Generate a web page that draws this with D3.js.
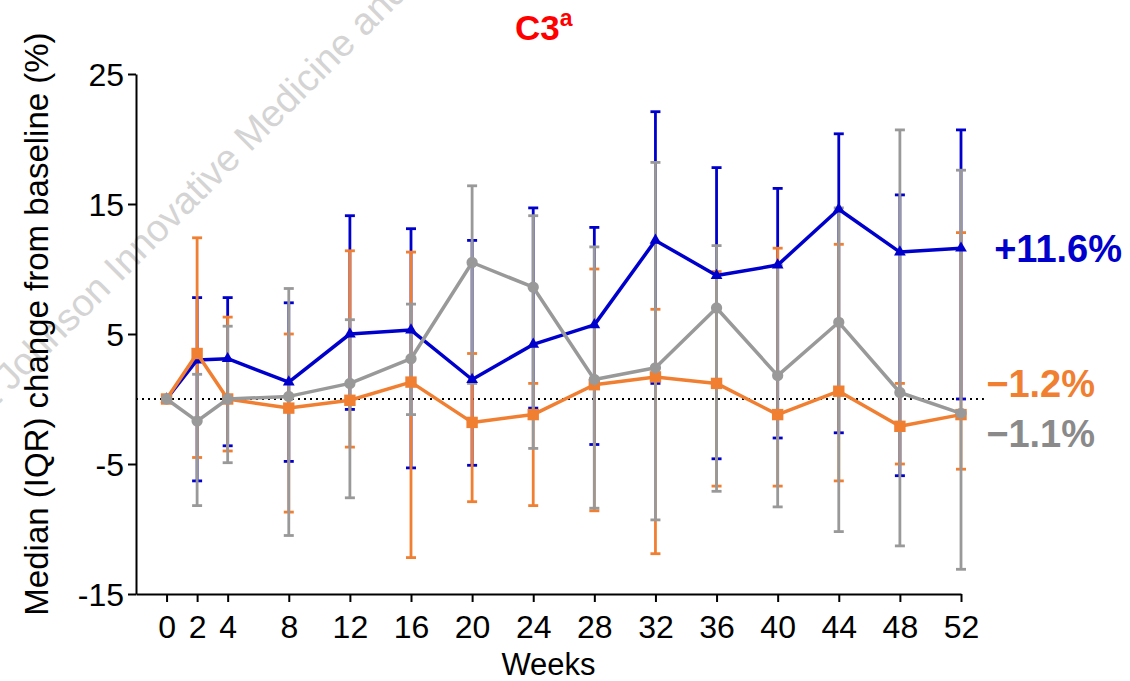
<!DOCTYPE html>
<html>
<head>
<meta charset="utf-8">
<script src="https://cdn.jsdelivr.net/npm/d3@7"></script>
<style>
  html, body { margin: 0; padding: 0; background: #fff; }
  svg { display: block; }
  text { font-family: "Liberation Sans", Arial, sans-serif; }
</style>
</head>
<body>
<svg id="chart" width="1130" height="681"></svg>
<script>
// ---- data ----
const weeks = [0, 2, 4, 8, 12, 16, 20, 24, 28, 32, 36, 40, 44, 48, 52];
const xTickLabels = ["0","2","4","8","12","16","20","24","28","32","36","40","44","48","52"];
const yTickValues = [25, 15, 5, -5, -15];

const blueMedian = [0, 3.0, 3.1, 1.3, 5.0, 5.3, 1.5, 4.2, 5.7, 12.2, 9.5, 10.3, 14.6, 11.3, 11.6];
const blueQ1     = [0, -6.3, -3.6, -4.8, -0.8, -5.3, -5.1, -0.7, -3.5, 1.2, -4.6, -3.0, -2.6, -5.9, 0.0];
const blueQ3     = [0, 7.8, 7.8, 7.4, 14.1, 13.1, 12.2, 14.7, 13.2, 22.1, 17.8, 16.2, 20.4, 15.7, 20.7];

const orangeMedian = [0, 3.5, 0.0, -0.7, -0.1, 1.3, -1.8, -1.2, 1.1, 1.7, 1.2, -1.2, 0.6, -2.1, -1.2];
const orangeQ1     = [0, -4.5, -4.0, -8.7, -3.7, -12.2, -7.9, -8.2, -8.6, -11.9, -6.7, -6.7, -6.3, -5.0, -5.4];
const orangeQ3     = [0, 12.4, 6.3, 5.0, 11.4, 11.3, 3.5, 1.2, 10.0, 6.9, 9.8, 11.6, 11.9, 1.2, 12.8];

const grayMedian = [0, -1.7, 0.0, 0.2, 1.2, 3.1, 10.5, 8.6, 1.5, 2.4, 7.0, 1.8, 5.9, 0.5, -1.1];
const grayQ1     = [0, -8.2, -4.9, -10.5, -7.6, -1.2, 1.2, -3.8, -8.4, -9.3, -7.1, -8.3, -10.2, -11.3, -13.1];
const grayQ3     = [0, 1.9, 5.6, 8.5, 6.1, 7.3, 16.4, 14.1, 11.7, 18.2, 11.8, 10.3, 14.7, 20.7, 17.6];

const endLabels = ["+11.6%", "\u22121.2%", "\u22121.1%"];

// ---- styles ----
const BLUE = "#0000cc", ORANGE = "#f07f32", GRAY = "#999999", GRAY_TXT = "#8a8a8a";

const series = [
  { name: "blue",   color: BLUE,   med: blueMedian,   q1: blueQ1,   q3: blueQ3,   shape: d3.symbolTriangle, size: 60,  label: endLabels[0], labelColor: BLUE },
  { name: "orange", color: ORANGE, med: orangeMedian, q1: orangeQ1, q3: orangeQ3, shape: d3.symbolSquare,   size: 130, label: endLabels[1], labelColor: ORANGE },
  { name: "gray",   color: GRAY,   med: grayMedian,   q1: grayQ1,   q3: grayQ3,   shape: d3.symbolCircle,   size: 100, label: endLabels[2], labelColor: GRAY_TXT }
];

const svg = d3.select("#chart");
const x = d3.scaleLinear().domain([-2, 52]).range([136, 961]);
const y = d3.scaleLinear().domain([-15, 25]).range([594, 74]);

// ---- watermark ----
const wm = svg.append("g").attr("transform", "translate(120,283) rotate(-45)");
const wmText = wm.append("text").attr("fill", "#d4d4d4").style("font-size", "38px");
const pre = wmText.append("tspan").text("& Johnson ");
wmText.append("tspan").text("Innovative Medicine and");
const preW = pre.node().getComputedTextLength();
wmText.attr("x", -preW);

// ---- zero reference line ----
svg.append("line")
  .attr("x1", x(-2)).attr("x2", x(53.5))
  .attr("y1", y(0)).attr("y2", y(0))
  .attr("stroke", "#000").attr("stroke-width", 2)
  .attr("stroke-dasharray", "2,4");

// ---- axes ----
const yAxis = svg.append("g").attr("transform", `translate(${x(-2)},0)`)
  .call(d3.axisLeft(y).tickValues(yTickValues).tickSize(8).tickSizeOuter(0).tickFormat(d => String(d)));
const xAxis = svg.append("g").attr("transform", `translate(0,${y(-15)})`)
  .call(d3.axisBottom(x).tickValues(weeks).tickSize(8).tickSizeOuter(0).tickFormat((d, i) => xTickLabels[i]));

[yAxis, xAxis].forEach(a => {
  a.select(".domain").attr("stroke", "#000").attr("stroke-width", 2);
  a.selectAll(".tick line").attr("stroke", "#000").attr("stroke-width", 2);
  a.selectAll(".tick text").attr("fill", "#000")
    .style("font-family", '"Liberation Sans", Arial, sans-serif').style("font-size", "32px");
});
yAxis.selectAll(".tick text").attr("x", -12).attr("dy", "0.36em");
xAxis.selectAll(".tick text").attr("y", 21).attr("dy", "0.71em");

// ---- axis titles ----
svg.append("text")
  .attr("transform", `translate(48,324) rotate(-90)`)
  .attr("text-anchor", "middle").style("font-size", "33px").attr("fill", "#000")
  .text("Median (IQR) change from baseline (%)");
svg.append("text")
  .attr("x", (x(-2) + x(52)) / 2).attr("y", 675)
  .attr("text-anchor", "middle").style("font-size", "31px").attr("fill", "#000")
  .text("Weeks");

// ---- title ----
const title = svg.append("text").attr("x", 515).attr("y", 40).attr("text-anchor", "start")
  .attr("fill", "#ff0000").style("font-weight", "bold").style("font-size", "35px");
title.append("tspan").text("C3");
title.append("tspan").attr("dy", -14).style("font-size", "23px").text("a");

// ---- error bars (all series first) ----
const capW = 5;
series.forEach(s => {
  const g = svg.append("g").attr("stroke", s.color).attr("stroke-width", 2.8).attr("fill", "none");
  weeks.forEach((w, i) => {
    if (s.q1[i] === s.q3[i]) return;
    const cx = x(w);
    g.append("line").attr("x1", cx).attr("x2", cx).attr("y1", y(s.q1[i])).attr("y2", y(s.q3[i]));
    g.append("line").attr("x1", cx - capW).attr("x2", cx + capW).attr("y1", y(s.q1[i])).attr("y2", y(s.q1[i]));
    g.append("line").attr("x1", cx - capW).attr("x2", cx + capW).attr("y1", y(s.q3[i])).attr("y2", y(s.q3[i]));
  });
});

// ---- lines and markers ----
series.forEach(s => {
  const pts = weeks.map((w, i) => [w, s.med[i]]);
  svg.append("path").datum(pts)
    .attr("d", d3.line().x(d => x(d[0])).y(d => y(d[1])))
    .attr("fill", "none").attr("stroke", s.color).attr("stroke-width", 3.5)
    .attr("stroke-linejoin", "round");
  svg.append("g").selectAll("path").data(pts).join("path")
    .attr("transform", d => `translate(${x(d[0])},${y(d[1])})`)
    .attr("d", d3.symbol().type(s.shape).size(s.size))
    .attr("fill", s.color);
});

// ---- end labels ----
const labelY = [262, 397, 447];
const labelX = [1122, 1095, 1095];
series.forEach((s, i) => {
  svg.append("text").attr("x", labelX[i]).attr("y", labelY[i]).attr("text-anchor", "end")
    .attr("fill", s.labelColor).style("font-weight", "bold").style("font-size", "38px")
    .text(s.label);
});
</script>
</body>
</html>
